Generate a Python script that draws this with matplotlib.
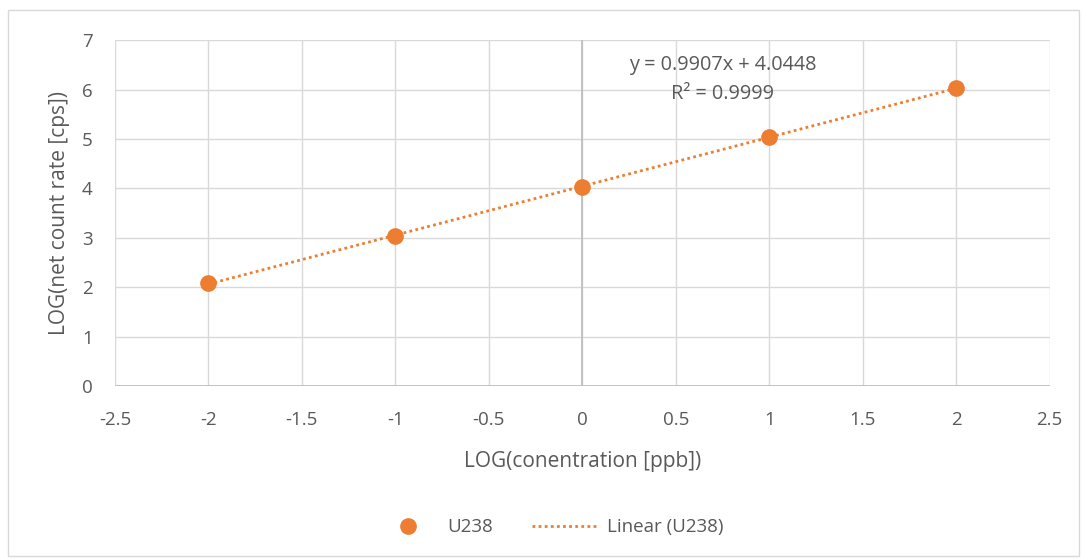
import numpy as np
import matplotlib.pyplot as plt
from matplotlib.patches import Rectangle

# data
log_conc = [-2, -1, 0, 1, 2]
log_rate = [2.08, 3.03, 4.03, 5.04, 6.03]
slope = 0.9907
intercept = 4.0448
r2 = 0.9999

plt.rcParams['font.family'] = ['Open Sans', 'DejaVu Sans']
txt = '#595959'
orange = '#ED7D31'

fig = plt.figure(figsize=(10.82, 5.59), dpi=100)
fig.patches.append(Rectangle((0.007, 0.005), 0.99, 0.978, transform=fig.transFigure,
                             fill=False, edgecolor='#d9d9d9', linewidth=1))
ax = fig.add_axes([0.1063, 0.3095, 0.8637, 0.6185])

ax.set_xlim(-2.5, 2.5)
ax.set_ylim(0, 7)
ax.set_xticks(np.arange(-2.5, 2.51, 0.5))
ax.set_xticklabels(['-2.5', '-2', '-1.5', '-1', '-0.5', '0', '0.5', '1', '1.5', '2', '2.5'])
ax.set_yticks(range(0, 8))
ax.grid(True, color='#d9d9d9', linewidth=1)
ax.set_axisbelow(True)
for s in ax.spines.values():
    s.set_visible(False)
ax.axvline(0, color='#bfbfbf', linewidth=1.3, zorder=1)
ax.axhline(0, color='#bfbfbf', linewidth=1.3, zorder=1)
ax.tick_params(length=0, labelsize=13.5, colors=txt)
ax.tick_params(axis='x', pad=18)
ax.tick_params(axis='y', pad=16)

# trend line
xs = np.array([min(log_conc), max(log_conc)])
trend, = ax.plot(xs, slope * xs + intercept, linestyle=(0, (1, 1.2)), color=orange,
                 linewidth=2, label='Linear (U238)', zorder=2)
pts, = ax.plot(log_conc, log_rate, 'o', color=orange, markersize=11, label='U238', zorder=3)

ax.text(0.75, 6.21, f'y = {slope}x + {intercept}\nR² = {r2}', ha='center', va='center',
        fontsize=14.3, color=txt, linespacing=1.6)

ax.set_xlabel('LOG(conentration [ppb])', fontsize=15, color=txt, labelpad=16)
ax.set_ylabel('LOG(net count rate [cps])', fontsize=15, color=txt, labelpad=9)

leg1 = fig.legend([pts], ['U238'], loc='center left', bbox_to_anchor=(0.353, 0.057),
                  frameon=False, fontsize=13.5, labelcolor=txt, handlelength=1,
                  handletextpad=1.6)
leg2 = fig.legend([trend], ['Linear (U238)'], loc='center left', bbox_to_anchor=(0.476, 0.057),
                  frameon=False, fontsize=13.5, labelcolor=txt, handlelength=3.5,
                  handletextpad=0.53)

fig.savefig('out.png', dpi=100)
